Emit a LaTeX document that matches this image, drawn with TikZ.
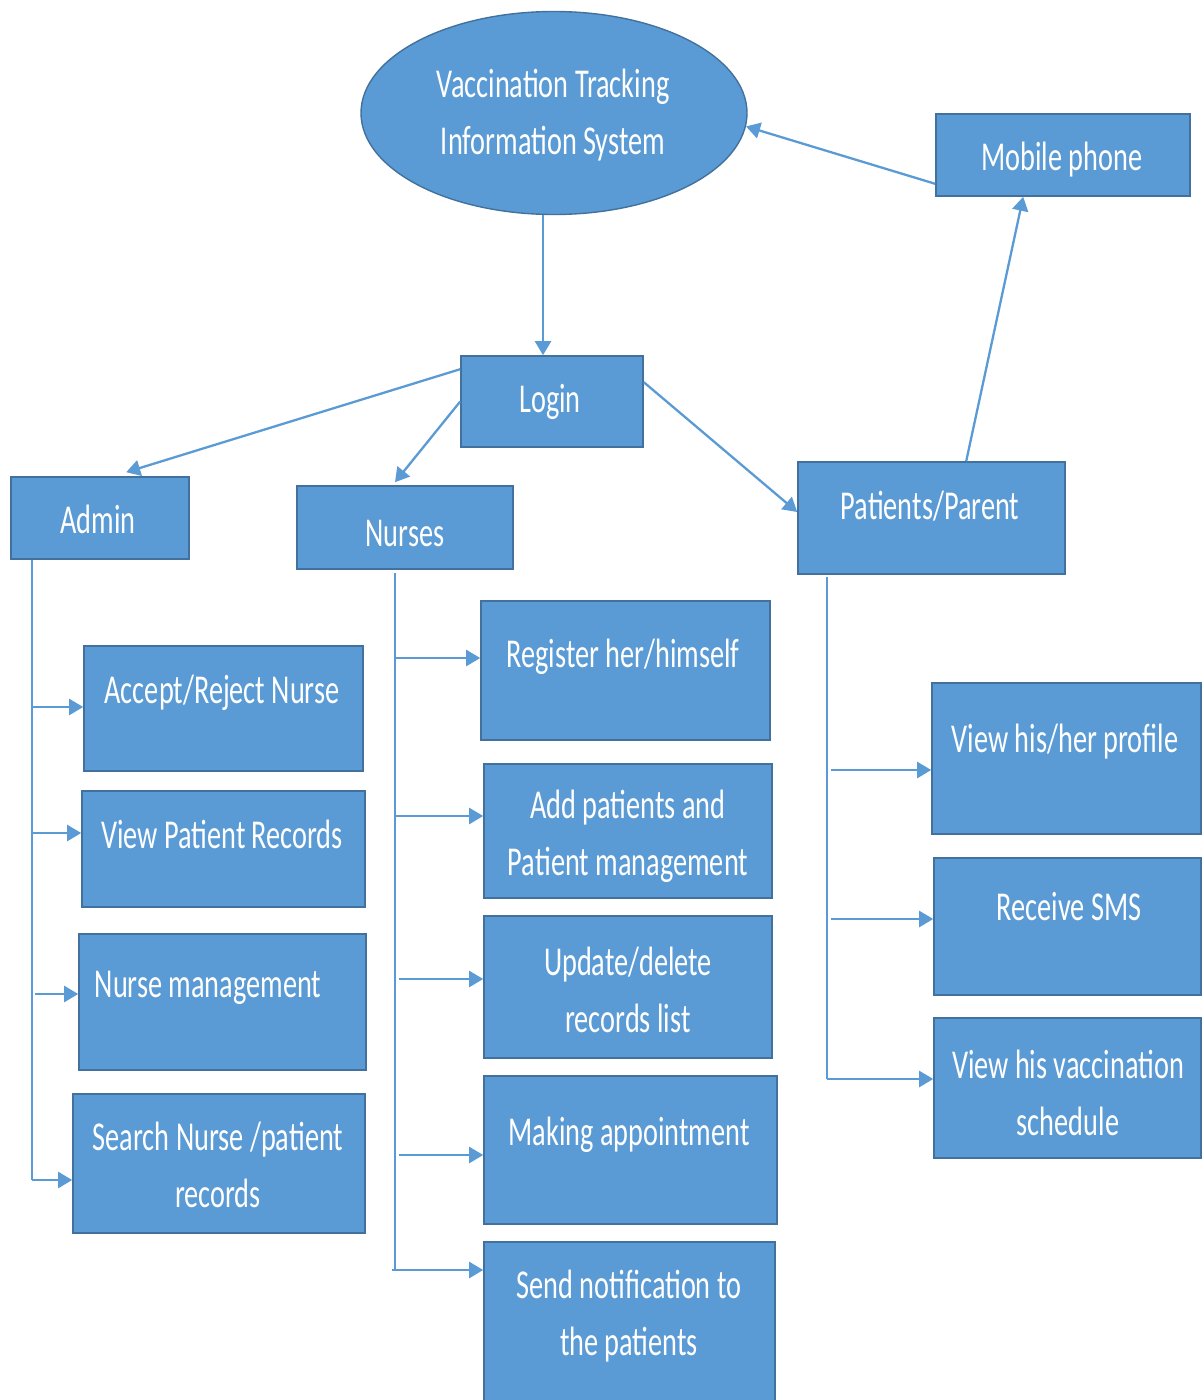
\documentclass[tikz,border=0pt]{standalone}
\usepackage{fontspec}
\newfontfamily\lblfont[FakeStretch=0.69]{Carlito}
\usetikzlibrary{arrows.meta,shapes.geometric,fit,calc}
\definecolor{boxfill}{HTML}{5B9BD5}
\definecolor{boxline}{HTML}{41719C}
\definecolor{wire}{HTML}{5B9BD5}
\tikzset{
  box/.style={draw=boxline, line width=1.6pt, fill=boxfill, inner sep=0pt, rectangle},
  lbl/.style={text=white, font=\lblfont\fontsize{41}{57}\selectfont, inner sep=0pt, align=center, anchor=base},
  wireline/.style={draw=wire, line width=2.3pt},
  arr/.style={wireline, -{Triangle[length=14pt,width=16pt]}},
}
\begin{document}
\begin{tikzpicture}[x=1pt,y=-1pt]
\useasboundingbox (0,0) rectangle (1203,1400);
\fill[white] (0,0) rectangle (1203,1400);

% main system ellipse (labels are anchored at the baseline of their last line)
\node[ellipse, draw=boxline, line width=1.4pt, fill=boxfill, inner sep=0pt,
      minimum width=386pt, minimum height=203pt] (vt) at (554,113) {};
\node[lbl] (vt-t) at (553,154) {Vaccination Tracking\\Information System};

% top level boxes
\node[box, fit={(936,114) (1190,196)}] (mob) {};
\node[lbl] (mob-t) at (1062,170) {Mobile phone};
\node[box, fit={(461,356) (643,447)}] (login) {};
\node[lbl] (login-t) at (550,412) {Login};
\node[box, fit={(11,477) (189,559)}] (admin) {};
\node[lbl] (admin-t) at (98,533) {Admin};
\node[box, fit={(297,486) (513,569)}] (nurse) {};
\node[lbl] (nurse-t) at (405,546) {Nurses};
\node[box, fit={(798,462) (1065,574)}] (pat) {};
\node[lbl] (pat-t) at (930,519) {Patients/Parent};

% admin tasks
\node[box, fit={(84,646) (363,771)}] (acc) {};
\node[lbl] (acc-t) at (222,703) {Accept/Reject Nurse};
\node[box, fit={(82,791) (365,907)}] (vpr) {};
\node[lbl] (vpr-t) at (222,848) {View Patient Records};
\node[box, fit={(79,934) (366,1070)}] (nm) {};
\node[lbl] (nm-t) at (208,997) {Nurse management};
\node[box, fit={(73,1094) (365,1233)}] (snp) {};
\node[lbl] (snp-t) at (218,1207) {Search Nurse /patient\\records};

% nurse tasks
\node[box, fit={(481,601) (770,740)}] (reg) {};
\node[lbl] (reg-t) at (623,667) {Register her/himself};
\node[box, fit={(484,764) (772,898)}] (add) {};
\begin{scope}
  \clip (484,764) rectangle (772,881);
  \node[lbl] (add-t) at (628,875) {Add patients and\\Patient management};
\end{scope}
\node[box, fit={(484,916) (772,1058)}] (upd) {};
\node[lbl] (upd-t) at (628,1032) {Update/delete\\records list};
\node[box, fit={(484,1076) (777,1224)}] (mak) {};
\node[lbl] (mak-t) at (629,1145) {Making appointment};
\node[box, fit={(484,1242) (775,1420)}] (snd) {};
\node[lbl] (snd-t) at (629,1355) {Send notification to\\the patients};

% patient tasks
\node[box, fit={(932,683) (1201,834)}] (vhp) {};
\node[lbl] (vhp-t) at (1065,752) {View his/her profile};
\node[box, fit={(934,858) (1201,995)}] (sms) {};
\node[lbl] (sms-t) at (1069,920) {Receive SMS};
\node[box, fit={(934,1018) (1201,1158)}] (vvs) {};
\node[lbl] (vvs-t) at (1068,1135) {View his vaccination\\schedule};

% links between the top level boxes
\coordinate (lgn-in) at ($(login.north)+(-9,0)$);
\draw[arr] (vt.south -| lgn-in) -- (lgn-in);
\draw[arr] ($(mob.south west)+(0,-13)$) -- (vt.-4);
\draw[arr] ($(pat.north west)+(169,0)$) -- ($(mob.south west)+(88,0)$);
\draw[arr] ($(login.north west)+(0,14)$) -- ($(admin.north west)+(116,-4)$);
\draw[arr] (login.west) -- ($(nurse.north)+(-10,-3)$);
\draw[arr] ($(login.north east)+(0,27)$) -- ($(pat.west)+(0,-6)$);

% admin branch
\coordinate (aEnd) at (32,1180);
\draw[wireline] (aEnd |- admin.south) -- (aEnd);
\foreach \n/\x/\y in {acc/32/707, vpr/32/833, nm/35/994, snp/32/1180}{
  \coordinate (s) at (\x,\y);
  \draw[arr] (s) -- (s -| \n.west);
}

% nurse branch
\coordinate (nEnd) at (395,1270);
\draw[wireline] (395,573) -- (nEnd);
\foreach \n/\x/\y in {reg/395/658, add/395/816, upd/399/979, mak/399/1155, snd/392/1270}{
  \coordinate (s) at (\x,\y);
  \draw[arr] (s) -- (s -| \n.west);
}

% patient branch
\coordinate (pEnd) at (827,1079);
\draw[wireline] (827,577) -- (pEnd);
\foreach \n/\x/\y in {vhp/831/770, sms/831/919, vvs/827/1079}{
  \coordinate (s) at (\x,\y);
  \draw[arr] (s) -- (s -| \n.west);
}
\end{tikzpicture}
\end{document}
